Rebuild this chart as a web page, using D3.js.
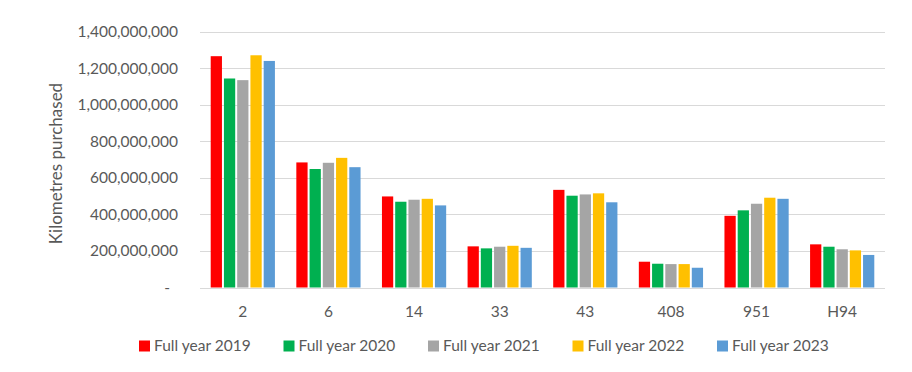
<!DOCTYPE html>
<html>
<head>
<meta charset="utf-8">
<script src="https://cdn.jsdelivr.net/npm/d3@7"></script>
<style>
  html, body { margin: 0; padding: 0; background: #ffffff; }
  svg { display: block; }
  text { font-family: Lato, "Open Sans", sans-serif; }
</style>
</head>
<body>
<svg id="chart" width="912" height="372"></svg>
<script>
const categories = ["2", "6", "14", "33", "43", "408", "951", "H94"];
const seriesNames = ["Full year 2019", "Full year 2020", "Full year 2021", "Full year 2022", "Full year 2023"];
const seriesColors = ["#ff0000", "#00b050", "#a5a5a5", "#ffc000", "#5b9bd5"];
const fy2019 = [1265e6, 684e6, 498e6, 225e6, 534e6, 141e6, 392e6, 236e6];
const fy2020 = [1143e6, 648e6, 469e6, 214e6, 502e6, 130e6, 422e6, 223e6];
const fy2021 = [1134e6, 682e6, 480e6, 223e6, 509e6, 128e6, 458e6, 209e6];
const fy2022 = [1270e6, 709e6, 485e6, 228e6, 515e6, 128e6, 491e6, 203e6];
const fy2023 = [1239e6, 658e6, 449e6, 217e6, 466e6, 108e6, 485e6, 178e6];
const yTicks = [0, 200e6, 400e6, 600e6, 800e6, 1000e6, 1200e6, 1400e6];
const yTitle = "Kilometres purchased";

const seriesValues = [fy2019, fy2020, fy2021, fy2022, fy2023];

const svg = d3.select("#chart");
const mLeft = 200, mRight = 885, mTop = 31.5, mBottom = 287.5;

const x0 = d3.scaleBand().domain(categories).range([mLeft, mRight]).paddingInner(0.25).paddingOuter(0.125);
const x1 = d3.scaleBand().domain(seriesNames).range([0, x0.bandwidth()]).paddingInner(0.15);
const y = d3.scaleLinear().domain([0, 1400e6]).range([mBottom, mTop]);

// gridlines
svg.append("g")
  .selectAll("line")
  .data(yTicks)
  .join("line")
  .attr("x1", mLeft).attr("x2", mRight)
  .attr("y1", d => Math.round(y(d)) + 0.5).attr("y2", d => Math.round(y(d)) + 0.5)
  .attr("stroke", "#d9d9d9").attr("stroke-width", 1);

// y axis labels
const fmt = d3.format(",");
const yAxis = svg.append("g")
  .attr("transform", `translate(${mLeft - 22},0)`)
  .call(d3.axisLeft(y).tickValues(yTicks).tickSize(0).tickPadding(0)
        .tickFormat(d => d === 0 ? "-" : fmt(d)));
yAxis.select(".domain").remove();
yAxis.selectAll("text")
  .attr("fill", "#595959")
  .style("font-size", "15.5px")
  .style("font-family", "Lato, sans-serif")
  .attr("dx", d => d === 0 ? -8 : 0);

// bars
const groups = svg.append("g")
  .selectAll("g")
  .data(categories)
  .join("g")
  .attr("transform", d => `translate(${x0(d)},0)`);

groups.selectAll("rect")
  .data((c, i) => seriesNames.map((s, j) => ({ s, j, v: seriesValues[j][i] })))
  .join("rect")
  .attr("x", d => x1(d.s))
  .attr("width", x1.bandwidth())
  .attr("y", d => y(d.v))
  .attr("height", d => y(0) - y(d.v))
  .attr("fill", d => seriesColors[d.j]);

// x axis labels
const xAxis = svg.append("g")
  .attr("transform", `translate(0,${mBottom})`)
  .call(d3.axisBottom(x0).tickSize(0).tickPadding(18));
xAxis.select(".domain").remove();
xAxis.selectAll("text")
  .attr("fill", "#595959")
  .style("font-size", "15.5px")
  .style("font-family", "Lato, sans-serif");

// y title
svg.append("text")
  .attr("transform", `translate(62,${(mTop + mBottom) / 2 + 4}) rotate(-90)`)
  .attr("text-anchor", "middle")
  .attr("fill", "#595959")
  .style("font-size", "17px")
  .text(yTitle);

// legend
const legend = svg.append("g").attr("transform", "translate(139,346)");
const item = legend.selectAll("g")
  .data(seriesNames)
  .join("g")
  .attr("transform", (d, i) => `translate(${i * 144.5},0)`);
item.append("rect")
  .attr("x", 0).attr("y", -5.5).attr("width", 11).attr("height", 11)
  .attr("fill", (d, i) => seriesColors[i]);
item.append("text")
  .attr("x", 15).attr("y", 0).attr("dy", "0.35em")
  .attr("fill", "#595959")
  .style("font-size", "15.5px")
  .text(d => d);
</script>
</body>
</html>
